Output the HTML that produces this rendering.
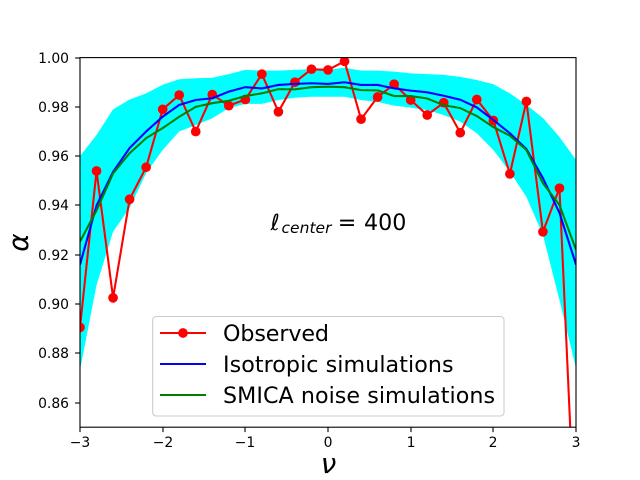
<!DOCTYPE html>
<html>
<head>
<meta charset="utf-8">
<title>Chart</title>
<style>
html,body{margin:0;padding:0;background:#fff;width:640px;height:480px;overflow:hidden}
svg{display:block}
text{font-family:"DejaVu Sans","Liberation Sans",sans-serif;fill:#000}
</style>
</head>
<body>
<svg id="chart" xmlns="http://www.w3.org/2000/svg" width="640" height="480" viewBox="0 0 640 480">
<defs><clipPath id="plot-clip"><rect x="80" y="57.6" width="496" height="369.6"/></clipPath></defs>
<rect x="0" y="0" width="640" height="480" fill="#fff"/>
<g id="marks" clip-path="url(#plot-clip)"></g>
<g id="axes"></g>
<text y="230" font-size="22.2"><tspan x="270.5" font-style="italic">ℓ</tspan><tspan x="281.5" y="233" font-style="italic" font-size="15.5" textLength="50" lengthAdjust="spacing">center</tspan><tspan x="337.7" y="230">=</tspan><tspan x="364" y="230">400</tspan></text>
<text x="328.5" y="473" font-size="27.8" font-style="italic" text-anchor="middle">ν</text>
<text transform="translate(28 242.6) rotate(-90)" font-size="27.8" font-style="italic" text-anchor="middle">α</text>
<g>
<rect x="152.7" y="316.5" width="351.3" height="99.5" rx="3.5" ry="3.5" fill="#fff" fill-opacity="0.8" stroke="#ccc" stroke-width="1.1"/>
<line x1="160" x2="206" y1="333" y2="333" stroke="#f00" stroke-width="2.08"/>
<circle cx="183" cy="333" r="4.85" fill="#f00"/>
<text x="223" y="341" font-size="22.2" textLength="106" lengthAdjust="spacing">Observed</text>
<line x1="160" x2="206" y1="364" y2="364" stroke="#00f" stroke-width="2.08"/>
<text x="223" y="372" font-size="22.2" textLength="230.5" lengthAdjust="spacing">Isotropic simulations</text>
<line x1="160" x2="206" y1="395" y2="395" stroke="#008000" stroke-width="2.08"/>
<text x="223" y="403" font-size="22.2" textLength="272" lengthAdjust="spacing">SMICA noise simulations</text>
</g>
</svg>
<script>
var nu = [-3,-2.8,-2.6,-2.4,-2.2,-2,-1.8,-1.6,-1.4,-1.2,-1,-0.8,-0.6,-0.4,-0.2,0,0.2,0.4,0.6,0.8,1,1.2,1.4,1.6,1.8,2,2.2,2.4,2.6,2.8,3];
var observed = [0.8905,0.954,0.9025,0.9425,0.9555,0.979,0.9848,0.970,0.985,0.9805,0.983,0.9933,0.978,0.990,0.9953,0.995,0.9985,0.975,0.984,0.9892,0.9828,0.9767,0.9817,0.9695,0.983,0.9745,0.9528,0.9822,0.9293,0.947,0.798];
var isotropic = [0.916,0.94,0.9536,0.9633,0.970,0.976,0.9808,0.9828,0.9835,0.9862,0.988,0.9875,0.9889,0.9893,0.9896,0.9893,0.990,0.9889,0.9889,0.9875,0.9866,0.9859,0.9845,0.9829,0.9798,0.9747,0.9693,0.9629,0.9511,0.937,0.916];
var smica = [0.9253,0.938,0.953,0.9612,0.9673,0.9714,0.976,0.980,0.9815,0.9825,0.9844,0.9855,0.9872,0.9871,0.988,0.9882,0.988,0.9868,0.9867,0.9844,0.9844,0.9834,0.9807,0.9795,0.9763,0.9718,0.9683,0.9625,0.949,0.9402,0.922];
var bandUpper = [0.96,0.9686,0.979,0.983,0.9855,0.989,0.9912,0.9916,0.9918,0.9933,0.995,0.9947,0.9947,0.995,0.9953,0.995,0.9959,0.9947,0.9947,0.9943,0.9936,0.9933,0.993,0.9922,0.9909,0.9892,0.9855,0.9808,0.9755,0.9678,0.9585];
var bandLower = [0.8732,0.9077,0.9293,0.939,0.9531,0.9625,0.97,0.9726,0.9754,0.9795,0.9812,0.9812,0.9828,0.9837,0.9841,0.9841,0.9841,0.9828,0.982,0.9805,0.9797,0.9787,0.9767,0.974,0.9693,0.9625,0.9537,0.9435,0.928,0.9016,0.874];
var xTicks = [-3,-2,-1,0,1,2,3];
var yTicks = [0.86,0.88,0.90,0.92,0.94,0.96,0.98,1.00];

var NS = 'http://www.w3.org/2000/svg';
var left = 80, right = 576, top_ = 57.6, bottom = 427.2;
var xMin = -3, xMax = 3, yMin = 0.85, yMax = 1.0;
var dotRadius = 4.85;
function xScale(v){ return left + (v - xMin) / (xMax - xMin) * (right - left); }
function yScale(v){ return bottom - (v - yMin) / (yMax - yMin) * (bottom - top_); }
function clamp(v){ return Math.max(yMin, Math.min(yMax, v)); }
/* Trim a series to the y-range: segments leaving the axes stop at the axes edge. */
function clippedRuns(xs, ys){
  var runs = [], run = [];
  function add(x, y){ run.push(xScale(x).toFixed(2) + ',' + yScale(y).toFixed(2)); }
  for (var i = 0; i < xs.length; i++) {
    var inside = ys[i] >= yMin && ys[i] <= yMax;
    if (i > 0) {
      var prevInside = ys[i-1] >= yMin && ys[i-1] <= yMax;
      if (inside !== prevInside) {
        var edge = inside ? clamp(ys[i-1]) : clamp(ys[i]);
        var f = (edge - ys[i-1]) / (ys[i] - ys[i-1]);
        add(xs[i-1] + f * (xs[i] - xs[i-1]), edge);
        if (!inside) { runs.push(run); run = []; }
      }
    }
    if (inside) add(xs[i], ys[i]);
  }
  if (run.length) runs.push(run);
  return runs.map(function(r){ return r.join(' '); }).join(' ');
}
function linePoints(xs, ys){
  return xs.map(function(x, i){ return xScale(x).toFixed(2) + ',' + yScale(ys[i]).toFixed(2); });
}
var marks = document.getElementById('marks');
var axes = document.getElementById('axes');

var band = document.createElementNS(NS, 'polygon');


band.setAttribute('points', linePoints(nu, bandUpper).concat(linePoints(nu, bandLower).reverse()).join(' '));
band.setAttribute('fill', '#00ffff');
marks.appendChild(band);

var obsLine = document.createElementNS(NS, 'polyline');


obsLine.setAttribute('points', clippedRuns(nu, observed));
obsLine.setAttribute('fill', 'none');
obsLine.setAttribute('stroke', '#f00');
obsLine.setAttribute('stroke-width', '2.08');
marks.appendChild(obsLine);

nu.forEach(function(x, i){
  var cy = yScale(observed[i]);
  if (cy - dotRadius > bottom || cy + dotRadius < top_) return;
  var dot = document.createElementNS(NS, 'circle');
  
  
  dot.setAttribute('cx', xScale(x).toFixed(2));
  dot.setAttribute('cy', cy.toFixed(2));
  dot.setAttribute('r', dotRadius);
  dot.setAttribute('fill', '#f00');
  marks.appendChild(dot);
});

var isoLine = document.createElementNS(NS, 'polyline');


isoLine.setAttribute('points', clippedRuns(nu, isotropic));
isoLine.setAttribute('fill', 'none');
isoLine.setAttribute('stroke', '#00f');
isoLine.setAttribute('stroke-width', '2.08');
marks.appendChild(isoLine);

var smicaLine = document.createElementNS(NS, 'polyline');


smicaLine.setAttribute('points', clippedRuns(nu, smica));
smicaLine.setAttribute('fill', 'none');
smicaLine.setAttribute('stroke', '#008000');
smicaLine.setAttribute('stroke-width', '2.08');
marks.appendChild(smicaLine);

xTicks.forEach(function(t){
  var px = Math.round(xScale(t));
  var tick = document.createElementNS(NS, 'line');
  
  
  tick.setAttribute('x1', px);
  tick.setAttribute('x2', px);
  tick.setAttribute('y1', bottom);
  tick.setAttribute('y2', bottom + 4.9);
  tick.setAttribute('stroke', '#000');
  tick.setAttribute('stroke-width', '1.1');
  axes.appendChild(tick);
  var label = document.createElementNS(NS, 'text');
  
  
  label.setAttribute('x', px);
  label.setAttribute('y', 447);
  label.setAttribute('font-size', '13.9');
  label.setAttribute('text-anchor', 'middle');
  label.textContent = String(t).replace('-', '\u2212');
  axes.appendChild(label);
});

yTicks.forEach(function(t){
  var py = Math.round(yScale(t)) ;
  var tick = document.createElementNS(NS, 'line');
  
  
  tick.setAttribute('x1', left - 4.9);
  tick.setAttribute('x2', left);
  tick.setAttribute('y1', py);
  tick.setAttribute('y2', py);
  tick.setAttribute('stroke', '#000');
  tick.setAttribute('stroke-width', '1.1');
  axes.appendChild(tick);
  var label = document.createElementNS(NS, 'text');
  
  
  label.setAttribute('x', 69);
  label.setAttribute('y', py + 5);
  label.setAttribute('font-size', '13.9');
  label.setAttribute('text-anchor', 'end');
  label.textContent = t.toFixed(2);
  axes.appendChild(label);
});

var spines = document.createElementNS(NS, 'rect');


spines.setAttribute('x', left);
spines.setAttribute('y', top_);
spines.setAttribute('width', right - left);
spines.setAttribute('height', bottom - top_);
spines.setAttribute('fill', 'none');
spines.setAttribute('stroke', '#000');
spines.setAttribute('stroke-width', '1.1');
axes.appendChild(spines);
</script>
</body>
</html>
